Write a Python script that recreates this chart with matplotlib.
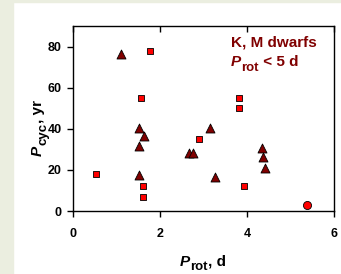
import matplotlib
matplotlib.use("Agg")
import matplotlib.pyplot as plt
from matplotlib.patches import Rectangle

plt.rcParams['font.family'] = ['Liberation Sans', 'DejaVu Sans']

# Data
sq_x = [0.52, 1.60, 1.60, 1.77, 1.56, 3.82, 3.82, 2.89, 3.94]
sq_y = [18.2, 12.2, 6.7, 78.0, 55.0, 55.0, 50.0, 34.9, 12.0]
tri_x = [1.10, 1.52, 1.63, 1.52, 1.52, 2.67, 2.77, 3.26, 3.15, 4.34, 4.37, 4.42]
tri_y = [76.4, 40.3, 36.5, 31.5, 17.4, 28.4, 28.1, 16.4, 40.6, 30.5, 26.3, 20.9]
circ_x = [5.39]
circ_y = [3.1]
xticks = [0, 2, 4, 6]
yticks = [0, 20, 40, 60, 80]

W, H = 341, 274
fig = plt.figure(figsize=(W / 100, H / 100), dpi=100)
bg = '#EBEEE0'
fig.patches.append(Rectangle((0, 0), 13 / W, 1, transform=fig.transFigure, color=bg, zorder=0))
fig.patches.append(Rectangle((0, 1 - 1.5 / H), 1, 1.5 / H, transform=fig.transFigure, color=bg, zorder=0))

ax = fig.add_axes([73 / W, 1 - 211 / H, (334 - 73) / W, (211 - 26) / H])
ax.set_xlim(0, 6)
ax.set_ylim(0, 90)

ax.scatter(sq_x, sq_y, marker='s', s=14, c='#FF0000', edgecolors='black', linewidths=0.6, zorder=3)
ax.scatter(tri_x, tri_y, marker='^', s=42, c='#800000', edgecolors='black', linewidths=0.6, zorder=3)
ax.scatter(circ_x, circ_y, marker='o', s=34, c='#FF0000', edgecolors='black', linewidths=0.6, zorder=3)

ax.set_xticks(xticks)
ax.set_yticks(yticks)
ax.tick_params(axis='both', direction='out', length=4, width=1.0, labelsize=9, pad=4)
ax.tick_params(axis='x', top=True, pad=8)
for lbl in ax.get_xticklabels() + ax.get_yticklabels():
    lbl.set_fontweight('bold')
for s in ax.spines.values():
    s.set_linewidth(1.0)
for t in ax.xaxis.get_major_ticks():
    t.tick2line.set_marker(3)  # top ticks point inward


def sub_text(px, py, main, sub, rest, color='black', size=11, subsize=9.5, drop=3.0, vertical=False):
    kw = dict(fontweight='bold', color=color, rotation_mode='anchor')
    rot = 90 if vertical else 0
    t1 = fig.text(px / W, 1 - py / H, main, fontsize=size, fontstyle='italic',
                  ha='left', va='baseline', rotation=rot, **kw)
    if vertical:
        xy, off1, off2 = (1, 1), (drop, 0.3), (-drop, 0.3)
    else:
        xy, off1, off2 = (1, 0), (0.3, -drop), (0.3, drop)
    t2 = ax.annotate(sub, xy=xy, xycoords=t1, xytext=off1, textcoords='offset points',
                     fontsize=subsize, ha='left', va='bottom', rotation=rot,
                     annotation_clip=False, **kw)
    ax.annotate(rest, xy=xy, xycoords=t2, xytext=off2, textcoords='offset points',
                fontsize=size, ha='left', va='bottom', rotation=rot,
                annotation_clip=False, **kw)


# axis labels
sub_text(180, 266, 'P', 'rot', ', d')
sub_text(42, 156, 'P', 'cyc', ', yr', vertical=True)

# annotation
fig.text(231 / W, 1 - 46.5 / H, 'K, M dwarfs', fontsize=11, fontweight='bold',
         color='#800000', ha='left', va='baseline')
sub_text(231, 66.5, 'P', 'rot', ' < 5 d', color='#800000')

fig.savefig('out.png', dpi=100)
